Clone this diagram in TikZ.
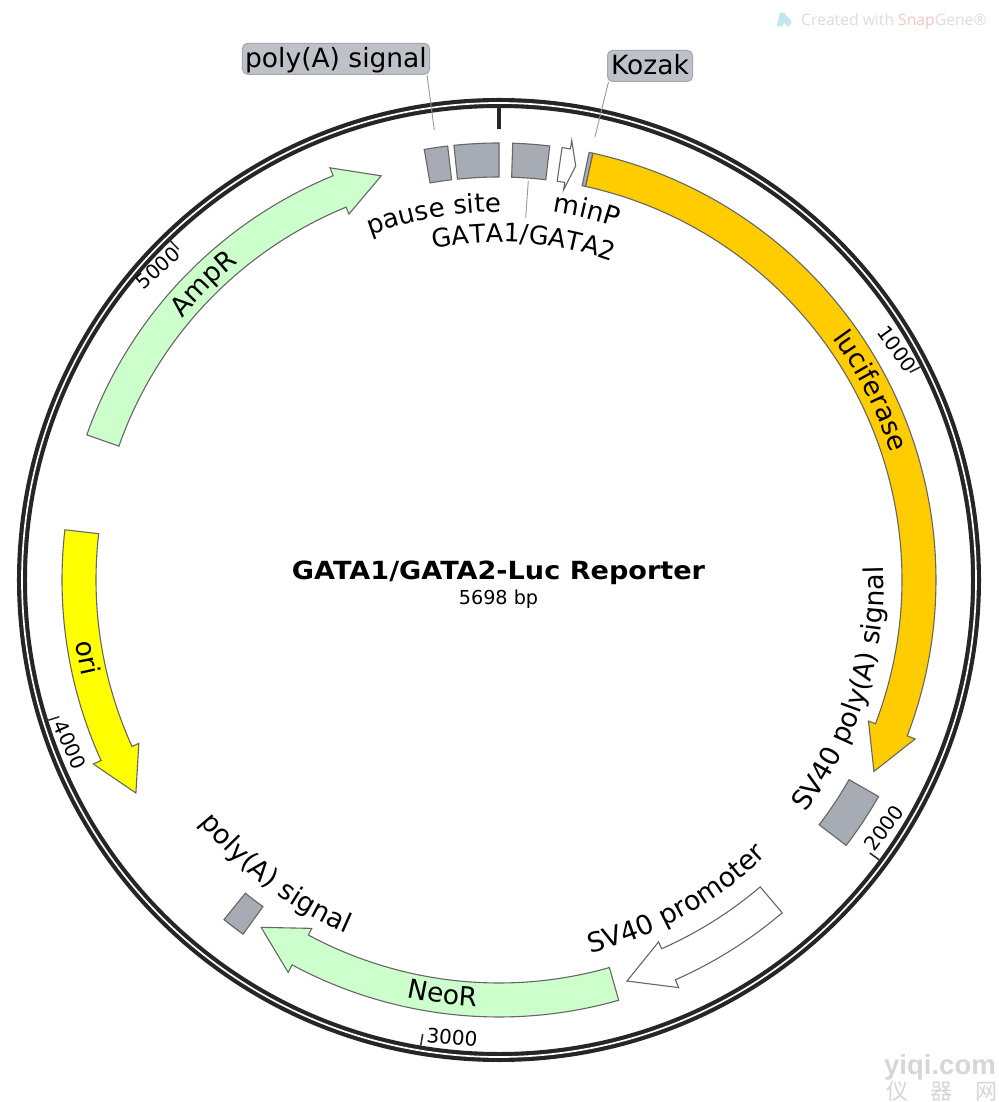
\documentclass[tikz,border=0pt]{standalone}
\usepackage{fontspec}
\setmainfont{DejaVu Sans}
\newfontfamily\wmfont{Open Sans}
\newfontfamily\wmbold{Liberation Sans}
\newfontfamily\titlefont[FakeStretch=1.084]{DejaVu Sans}
\newfontfamily\cjkfont{Noto Sans CJK SC}
\usetikzlibrary{decorations.text}
\definecolor{ringc}{HTML}{262626}
\definecolor{featline}{HTML}{666666}
\definecolor{featgray}{HTML}{A6ABB4}
\definecolor{lucif}{HTML}{FFCC00}
\definecolor{oriy}{HTML}{FFFF00}
\definecolor{resist}{HTML}{CCFFCC}
\definecolor{callfill}{HTML}{BEC1C8}
\definecolor{callline}{HTML}{A3A7AF}
\definecolor{leader}{HTML}{999999}
\definecolor{wm}{HTML}{DDDDDD}
\definecolor{wmred}{HTML}{F2C6C6}
\definecolor{wmtrace}{HTML}{D6D6D6}
\definecolor{wmblue}{HTML}{BFE6F5}
\newcommand\labfont{\fontsize{26.5pt}{30pt}\selectfont}
\newcommand\tickfont{\fontsize{20pt}{22pt}\selectfont}
% clockwise angles from 12 o'clock
\newcommand\featarrow[5][]{%
  \draw[feat,fill=#2,#1] ({90-(#3)}:437pt) arc[start angle={90-(#3)},end angle={90-(#4)},radius=437pt]
    -- ({90-(#4)}:445.5pt) -- ({90-(#5)}:421pt) -- ({90-(#4)}:395.5pt) -- ({90-(#4)}:403pt)
    arc[start angle={90-(#4)},end angle={90-(#3)},radius=403pt] -- cycle;}
\newcommand\featbox[3]{%
  \draw[feat,fill=#1] ({90-(#2)}:437pt) arc[start angle={90-(#2)},end angle={90-(#3)},radius=437pt]
    -- ({90-(#3)}:403pt) arc[start angle={90-(#3)},end angle={90-(#2)},radius=403pt] -- cycle;}
% curved label: [font size], text, centre angle, baseline radius; cw = tops outward, ccw = tops inward
\newcommand\cwlabel[4][26.5]{%
  \path[decorate,decoration={text along path,text align=center,text={|\fontsize{#1pt}{30pt}\selectfont|#2}}]
    ({90-(#3)+50}:#4pt) arc[start angle={90-(#3)+50},end angle={90-(#3)-50},radius=#4pt];}
\newcommand\ccwlabel[4][26.5]{%
  \path[decorate,decoration={text along path,text align=center,text={|\fontsize{#1pt}{30pt}\selectfont|#2}}]
    ({90-(#3)-50}:#4pt) arc[start angle={90-(#3)-50},end angle={90-(#3)+50},radius=#4pt];}
\newcommand\majortick[1]{\draw[ticksty] ({90-(#1)}:472pt) -- ({90-(#1)}:460.5pt);}
\tikzset{
  feat/.style={draw=featline,line width=1.1pt,line join=miter},
  callout/.style={draw=callline,fill=callfill,line width=1pt,rounded corners=5pt,inner sep=0pt,font=\labfont,text height=21pt,text depth=4pt},
  ticksty/.style={draw=ringc,line width=1.5pt},
  ticklabel/.style={font=\tickfont,inner sep=0pt},
  leaderline/.style={draw=leader,line width=0.9pt},
}
\begin{document}
\begin{tikzpicture}[x=1pt,y=1pt]
\useasboundingbox (-499,-522) rectangle (499,580);
\fill[white] (-499,-522) rectangle (499,580);
% backbone
\draw[ringc,line width=10pt] (0,0) circle[radius=477pt];
\draw[white,line width=1.7pt] (0,0) circle[radius=477pt];
\draw[ringc,line width=3.6pt] (0,472pt) -- (0,451pt);
\majortick{63.18}
\majortick{126.36}
\majortick{189.54}
\majortick{252.72}
\majortick{315.9}
\node[ticklabel,rotate=-54] (t1000) at (398,231) {1000};
\node[ticklabel,rotate=53.6] (t2000) at (385,-248) {2000};
\node[ticklabel,rotate=-5] (t3000) at (-47,-457) {3000};
\node[ticklabel,rotate=-66] (t4000) at (-429,-165) {4000};
\node[ticklabel,rotate=42] (t5000) at (-341,312) {5000};
% features
\featarrow{lucif}{12.4}{110.9}{117.05}
\featbox{featgray}{11.9}{12.4}
\featarrow{white}{8.3}{9.4}{10.5}
\featbox{featgray}{-9.85}{-6.75}
\featbox{featgray}{-5.92}{0}
\featbox{featgray}{1.8}{6.67}
\featbox{featgray}{119.7}{127.4}
\featarrow{white}{139.6}{156.2}{162.3}
\featarrow{resist}{164.1}{208.25}{214.4}
\featbox{featgray}{215.85}{219}
\featarrow{oriy}{276.6}{245.6}{239.6}
\featarrow{resist}{289.4}{337.7}{343.75}
% curved labels
\cwlabel{luciferase}{63}{412}
\ccwlabel[27]{SV40 poly(A) signal}{107.6}{385}
\ccwlabel[27]{SV40 promoter}{151}{384}
\ccwlabel{NeoR}{187.7}{427}
\ccwlabel[27]{poly(A) signal}{217.2}{385}
\ccwlabel{ori}{259.3}{428}
\cwlabel{AmpR}{-44.9}{411}
\cwlabel[26]{pause site}{-10.1}{368}
\cwlabel[25.5]{GATA1/GATA2}{4.2}{338}
\cwlabel{minP}{13.4}{372}
% callouts and leaders
\node[callout,minimum width=187pt,minimum height=31pt] (callA) at (-163,521.2) {poly(A) signal};
\node[callout,minimum width=85pt,minimum height=31pt] (callK) at (151,514) {Kozak};
\coordinate (endA) at (-64.7,450);
\coordinate (endK) at (96,443.3);
\coordinate (gataTop) at (29.3,399);
\coordinate (gataBot) at (26.7,362.3);
\draw[leaderline] ([xshift=-3pt]callA.south east) -- (endA);
\draw[leaderline] ([xshift=1.5pt]callK.south west) -- (endK);
\draw[leaderline] (gataTop) -- (gataBot);
% title
\node[font=\titlefont\bfseries\fontsize{25pt}{28pt}\selectfont,inner sep=0pt,anchor=base] (title) at (-0.5,0.7) {GATA1/GATA2-Luc Reporter};
\node[font=\fontsize{19.2pt}{22pt}\selectfont,inner sep=0pt,anchor=base] (size) at (-0.5,-25) {5698 bp};
% watermarks
\fill[wmblue] (277.7,553.5) -- (281,567.3) -- (285,567.3) -- (292.7,558.3) -- (289,553) -- (285,557) -- (283,553.5) -- cycle;
\node[font=\wmfont\fontsize{15.7pt}{18pt}\selectfont,text=wm,inner sep=0pt,anchor=west] (wmsnap) at (302,559) {Created with \textcolor{wmred}{Snap}Gene®};
\node[font=\wmbold\bfseries\fontsize{27.5pt}{30pt}\selectfont,text=wmtrace,inner sep=0pt,anchor=west] (wmyiqi) at (385,-487) {yiqi.com};
\node[font=\cjkfont\fontsize{22pt}{24pt}\selectfont,text=wmtrace,inner sep=0pt] (wmcn) at (443,-511) {仪\hspace{23pt}器\hspace{23pt}网};
\end{tikzpicture}
\end{document}
